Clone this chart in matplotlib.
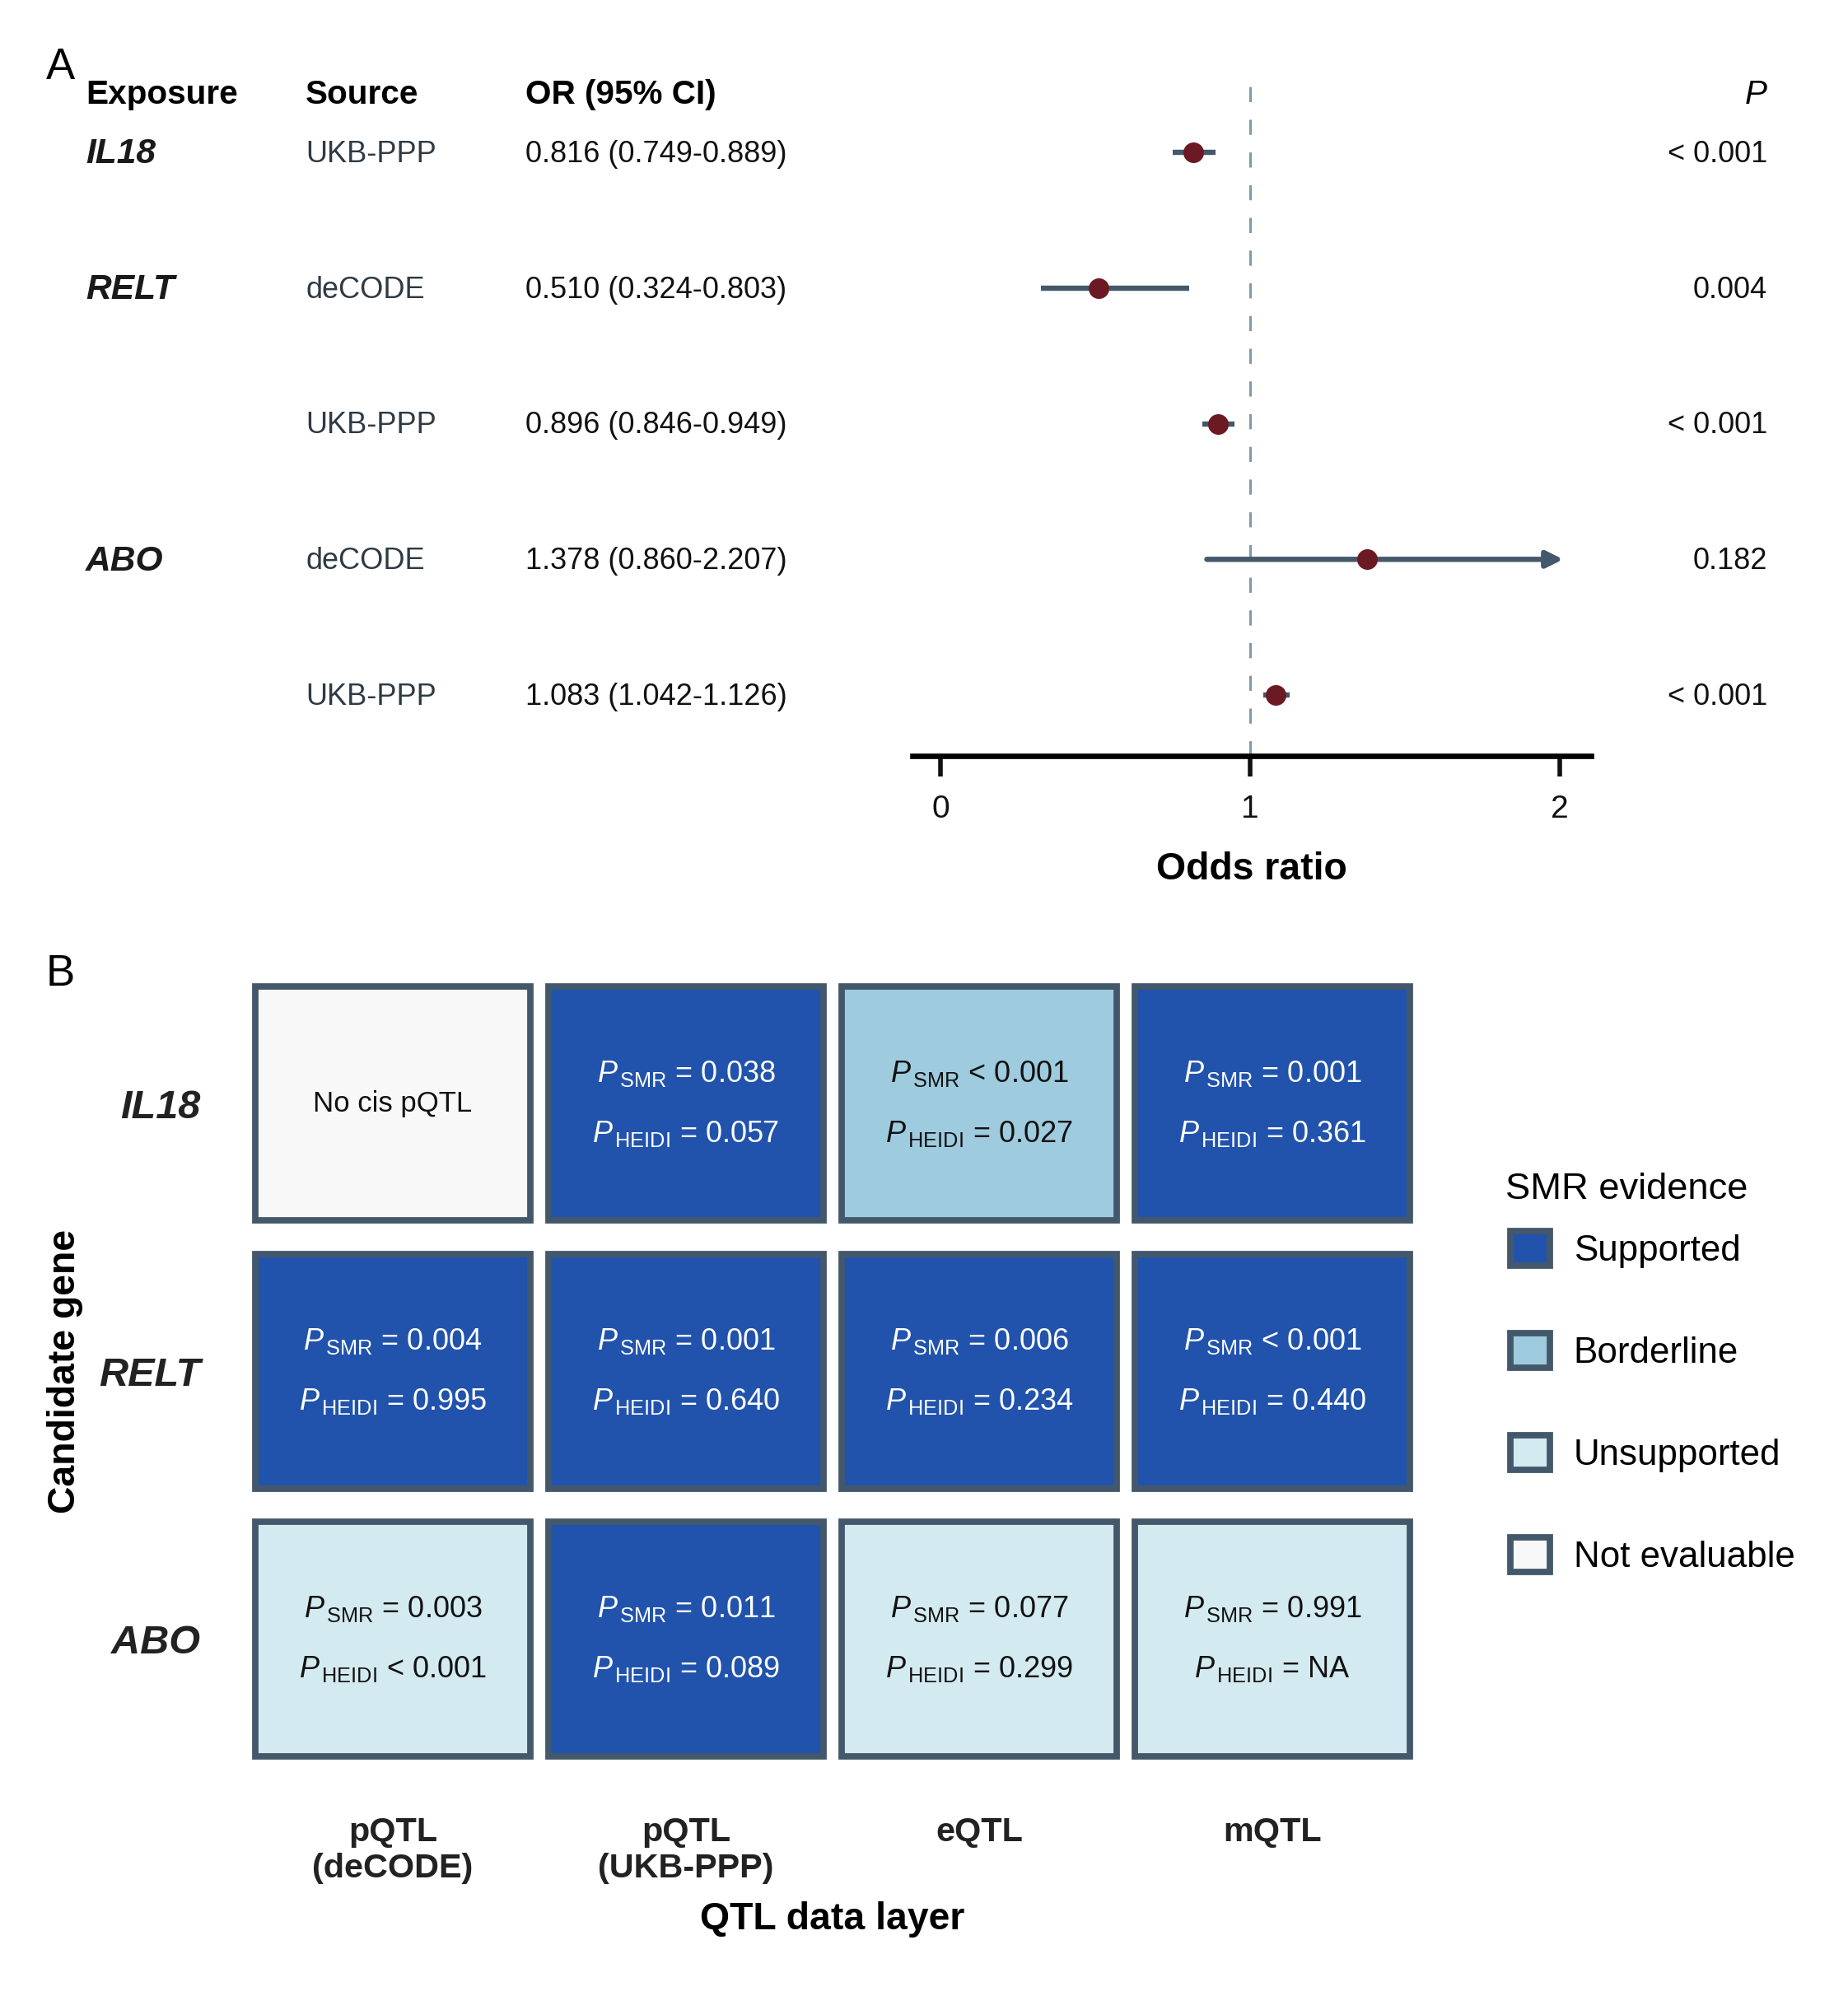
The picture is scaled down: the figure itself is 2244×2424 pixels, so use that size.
import matplotlib
matplotlib.use("Agg")
import matplotlib.pyplot as plt
import matplotlib.transforms as mtransforms
from matplotlib.patches import Rectangle, Patch

plt.rcParams['font.family'] = 'Liberation Sans'
plt.rcParams['mathtext.fontset'] = 'custom'
plt.rcParams['mathtext.rm'] = 'Liberation Sans'
plt.rcParams['mathtext.it'] = 'Liberation Sans:italic'
plt.rcParams['mathtext.bf'] = 'Liberation Sans:bold'

# ---- panel A data ----
exposure = ["IL18", "RELT", "", "ABO", ""]
source = ["UKB-PPP", "deCODE", "UKB-PPP", "deCODE", "UKB-PPP"]
or_est = [0.816, 0.510, 0.896, 1.378, 1.083]
ci_low = [0.749, 0.324, 0.846, 0.860, 1.042]
ci_high = [0.889, 0.803, 0.949, 2.207, 1.126]
p_vals = ["< 0.001", "0.004", "< 0.001", "0.182", "< 0.001"]

# ---- panel B data ----
genes = ["IL18", "RELT", "ABO"]
layers = ["pQTL\n(deCODE)", "pQTL\n(UKB-PPP)", "eQTL", "mQTL"]
status = [
    ["Not evaluable", "Supported", "Borderline", "Supported"],
    ["Supported", "Supported", "Supported", "Supported"],
    ["Unsupported", "Supported", "Unsupported", "Unsupported"],
]
p_smr = [
    [None, "= 0.038", "< 0.001", "= 0.001"],
    ["= 0.004", "= 0.001", "= 0.006", "< 0.001"],
    ["= 0.003", "= 0.011", "= 0.077", "= 0.991"],
]
p_heidi = [
    [None, "= 0.057", "= 0.027", "= 0.361"],
    ["= 0.995", "= 0.640", "= 0.234", "= 0.440"],
    ["< 0.001", "= 0.089", "= 0.299", "= NA"],
]
categories = ["Supported", "Borderline", "Unsupported", "Not evaluable"]
cat_colors = {"Supported": "#2153AC", "Borderline": "#9ECBDE",
              "Unsupported": "#D3EAF0", "Not evaluable": "#F8F8F8"}
edge = "#44586B"

W, H = 2244, 2424
fig = plt.figure(figsize=(W / 200, H / 200), dpi=200)


def fx(x):
    return x / W


def fy(y):
    return 1 - y / H


# ================= Panel A =================
ax = fig.add_axes([fx(1108), fy(918), fx(1932) - fx(1108), fy(100) - fy(918)])
n = len(or_est)
ys = [n - i for i in range(n)]
ax.set_xlim(-0.09, 2.10)
ax.set_ylim(0.551, 5.516)

ax.axvline(1, color="#7F9AAA", lw=1.1, ls=(0, (6, 7)), zorder=1)
for y, o, lo, hi in zip(ys, or_est, ci_low, ci_high):
    if hi > 2.0:
        ax.annotate("", xy=(2.01, y), xytext=(lo, y),
                    arrowprops=dict(arrowstyle="-|>", color=edge, lw=2.3,
                                    mutation_scale=15, shrinkA=0, shrinkB=0),
                    zorder=2)
    else:
        ax.hlines(y, lo, hi, color=edge, lw=2.3, zorder=2)
    ax.plot(o, y, "o", color="#6B1A24", ms=8, zorder=3)

for s in ["top", "left", "right"]:
    ax.spines[s].set_visible(False)
ax.spines["bottom"].set_linewidth(2.4)
ax.set_yticks([])
ax.set_xticks([0, 1, 2])
ax.tick_params(axis="x", length=9, width=2, labelsize=14, pad=8, colors="#111111")
ax.patch.set_alpha(0)

tr = mtransforms.blended_transform_factory(fig.transFigure, ax.transData)
dy = -0.015
hy = 5.437 + dy
fig.text(fx(104), hy, "Exposure", transform=tr, fontsize=14.6, fontweight="bold", va="center")
fig.text(fx(371), hy, "Source", transform=tr, fontsize=14.6, fontweight="bold", va="center")
fig.text(fx(638), hy, "OR (95% CI)", transform=tr, fontsize=14.6, fontweight="bold", va="center")
fig.text(fx(2146), hy, "P", transform=tr, fontsize=14.6, style="italic", va="center", ha="right")
for y, e, s, o, lo, hi, p in zip(ys, exposure, source, or_est, ci_low, ci_high, p_vals):
    fig.text(fx(104), y + dy, e, transform=tr, fontsize=15.3, fontweight="bold",
             style="italic", va="center", color="#1a1a1a")
    fig.text(fx(371), y + dy, s, transform=tr, fontsize=13, va="center", color="#2E3A44")
    fig.text(fx(638), y + dy, f"{o:.3f} ({lo:.3f}-{hi:.3f})", transform=tr,
             fontsize=13, va="center", color="#111111")
    fig.text(fx(2146), y + dy, p, transform=tr, fontsize=13, va="center", ha="right",
             color="#111111")

fig.text(fx(1520), fy(1056), "Odds ratio", fontsize=16.7, fontweight="bold",
         ha="center", va="center")
fig.text(fx(73), fy(82), "A", fontsize=19, ha="center", va="center")

# ================= Panel B =================
bx = fig.add_axes([fx(299), fy(2153), fx(1723) - fx(299), fy(1177.5) - fy(2153)])
bx.set_xlim(0.5, 4.5)
bx.set_ylim(3.5, 0.5)
tw, th = 0.94, 0.875
for i, g in enumerate(genes):
    for j, lay in enumerate(layers):
        st = status[i][j]
        cx, cy = j + 1, i + 1
        bx.add_patch(Rectangle((cx - tw / 2, cy - th / 2), tw, th,
                               facecolor=cat_colors[st], edgecolor=edge, lw=2.8))
        tc = "white" if st == "Supported" else "#111111"
        if p_smr[i][j] is None:
            bx.text(cx, cy, "No cis pQTL", ha="center", va="center",
                    fontsize=12.5, color=tc)
        else:
            bx.text(cx, cy - 0.112, r"$P_{\,\mathrm{SMR}}$ " + p_smr[i][j],
                    ha="center", va="center", fontsize=13, color=tc)
            bx.text(cx, cy + 0.112, r"$P_{\,\mathrm{HEIDI}}$ " + p_heidi[i][j],
                    ha="center", va="center", fontsize=13, color=tc)

for s in bx.spines.values():
    s.set_visible(False)
bx.set_xticks(range(1, len(layers) + 1))
bx.set_xticklabels(layers, fontsize=14.9, fontweight="bold", linespacing=1.2,
                   color="#222222")
bx.set_yticks(range(1, len(genes) + 1))
bx.set_yticklabels(genes, fontsize=17.5, fontweight="bold", style="italic",
                   color="#222222")
bx.tick_params(axis="x", length=0, pad=19)
bx.tick_params(axis="y", length=0, pad=20)

fig.text(fx(1011), fy(2331), "QTL data layer", fontsize=16.7, fontweight="bold",
         ha="center", va="center")
fig.text(fx(79), fy(1665), "Candidate gene", fontsize=16.7, fontweight="bold",
         ha="center", va="center", rotation=90)
fig.text(fx(73), fy(1183), "B", fontsize=19, ha="center", va="center")

fig.text(fx(1828), fy(1444), "SMR evidence", fontsize=16.3, ha="left", va="center")
handles = [Patch(facecolor=cat_colors[c], edgecolor=edge, lw=2.8) for c in categories]
fig.legend(handles, categories, loc="upper left", bbox_to_anchor=(fx(1834), fy(1495)),
           frameon=False, fontsize=15.8,
           handlelength=1.1, handleheight=1.1,
           labelspacing=1.8, handletextpad=0.65, borderpad=0, borderaxespad=0)

fig.savefig("out.png", dpi=200)
